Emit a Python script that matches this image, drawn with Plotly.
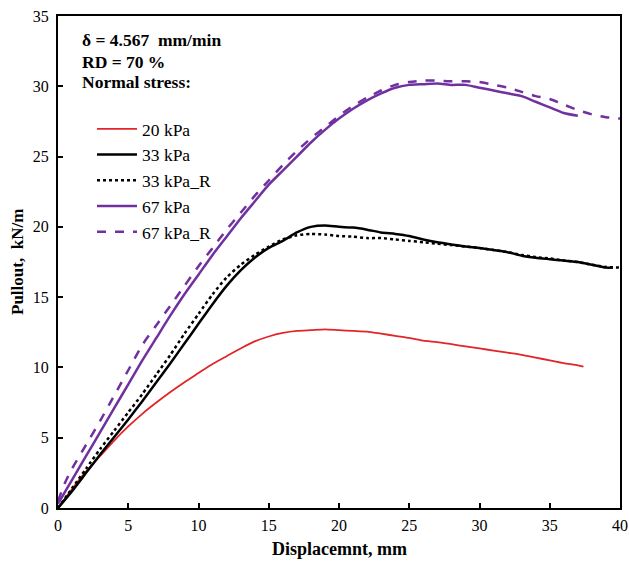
import plotly.graph_objects as go

# ---- data ----
x_20 = [0, 1, 2, 3, 4, 5, 6, 7, 8, 9, 10, 11, 12, 13, 14, 15, 16, 17, 18, 19, 20, 21, 22, 23, 24, 25, 26, 27, 28, 29, 30, 31, 32, 33, 34, 35, 36, 37, 37.4]
y_20 = [0, 1.35, 2.6, 3.7, 4.8, 5.8, 6.7, 7.5, 8.25, 8.95, 9.6, 10.25, 10.8, 11.35, 11.85, 12.2, 12.45, 12.6, 12.65, 12.7, 12.65, 12.6, 12.55, 12.4, 12.25, 12.1, 11.9, 11.8, 11.65, 11.5, 11.35, 11.2, 11.05, 10.9, 10.7, 10.5, 10.3, 10.15, 10.05]

x_33 = [0, 1, 2, 3, 4, 5, 6, 7, 8, 9, 10, 11, 12, 13, 14, 15, 16, 17, 18, 19, 20, 21, 22, 23, 24, 25, 26, 27, 28, 29, 30, 31, 32, 33, 34, 35, 36, 37, 38, 39, 39.5]
y_33 = [0, 1.2, 2.5, 3.8, 5.05, 6.3, 7.6, 8.95, 10.3, 11.7, 13.1, 14.5, 15.8, 16.9, 17.8, 18.5, 19.0, 19.6, 20.0, 20.1, 20.0, 19.95, 19.8, 19.6, 19.5, 19.35, 19.1, 18.9, 18.75, 18.6, 18.5, 18.35, 18.2, 17.95, 17.8, 17.7, 17.6, 17.5, 17.3, 17.1, 17.1]

x_33r = [0, 1, 2, 3, 4, 5, 6, 7, 8, 9, 10, 11, 12, 13, 14, 15, 16, 17, 18, 19, 20, 21, 22, 23, 24, 25, 26, 27, 28, 29, 30, 31, 32, 33, 34, 35, 36, 37, 38, 39, 40]
y_33r = [0, 1.4, 2.8, 4.2, 5.5, 6.8, 8.1, 9.5, 10.9, 12.4, 13.8, 15.2, 16.4, 17.3, 18.0, 18.6, 19.1, 19.4, 19.5, 19.45, 19.35, 19.3, 19.2, 19.2, 19.1, 19.0, 18.9, 18.8, 18.7, 18.6, 18.5, 18.35, 18.2, 18.0, 17.85, 17.75, 17.6, 17.5, 17.3, 17.15, 17.1]

x_67 = [0, 1, 2, 3, 4, 5, 6, 7, 8, 9, 10, 11, 12, 13, 14, 15, 16, 17, 18, 19, 20, 21, 22, 23, 24, 25, 26, 27, 28, 29, 30, 31, 32, 33, 34, 35, 36, 37]
y_67 = [0.3, 2.0, 3.7, 5.4, 7.1, 8.8, 10.5, 12.1, 13.7, 15.2, 16.6, 18.0, 19.3, 20.6, 21.8, 23.0, 24.0, 25.0, 26.0, 26.9, 27.7, 28.4, 29.0, 29.5, 29.9, 30.1, 30.15, 30.2, 30.1, 30.1, 29.9, 29.7, 29.5, 29.3, 28.9, 28.5, 28.1, 27.9]

x_67r = [0, 0.5, 1, 2, 3, 4, 5, 6, 7, 8, 9, 10, 11, 12, 13, 14, 15, 16, 17, 18, 19, 20, 21, 22, 23, 24, 25, 26, 27, 28, 29, 30, 31, 32, 33, 34, 35, 36, 37, 38, 39, 40]
y_67r = [0.5, 1.8, 2.8, 4.5, 6.2, 8.0, 9.8, 11.6, 13.0, 14.4, 15.8, 17.2, 18.5, 19.8, 21.0, 22.2, 23.3, 24.4, 25.4, 26.3, 27.1, 27.9, 28.6, 29.2, 29.7, 30.1, 30.3, 30.4, 30.4, 30.35, 30.35, 30.3, 30.1, 29.9, 29.6, 29.3, 29.1, 28.7, 28.3, 28.0, 27.8, 27.7]

series_names = ["20 kPa", "33 kPa", "33 kPa_R", "67 kPa", "67 kPa_R"]
x_ticks = [0, 5, 10, 15, 20, 25, 30, 35, 40]
y_ticks = [0, 5, 10, 15, 20, 25, 30, 35]
info_lines = ["δ = 4.567  mm/min", "RD = 70 %", "Normal stress:"]
x_title = "Displacemnt, mm"
y_title = "Pullout,  kN/m"

RED = "#e0262a"
PURPLE = "#7030a0"
SERIF = "Liberation Serif, Times New Roman, serif"

fig = go.Figure()
fig.add_trace(go.Scatter(x=x_20, y=y_20, mode="lines", name=series_names[0],
                         line=dict(color=RED, width=1.8, shape="spline", smoothing=0.6)))
fig.add_trace(go.Scatter(x=x_33, y=y_33, mode="lines", name=series_names[1],
                         line=dict(color="black", width=2.5, shape="spline", smoothing=0.6)))
fig.add_trace(go.Scatter(x=x_33r, y=y_33r, mode="lines", name=series_names[2],
                         line=dict(color="black", width=2.5, dash="dot", shape="spline", smoothing=0.6)))
fig.add_trace(go.Scatter(x=x_67, y=y_67, mode="lines", name=series_names[3],
                         line=dict(color=PURPLE, width=2.5, shape="spline", smoothing=0.6)))
fig.add_trace(go.Scatter(x=x_67r, y=y_67r, mode="lines", name=series_names[4],
                         line=dict(color=PURPLE, width=2.5, dash="dash", shape="spline", smoothing=0.6)))

axis_common = dict(showgrid=False, zeroline=False, showline=True, linecolor="black",
                   linewidth=2, mirror=True, ticks="inside", ticklen=5, tickwidth=2,
                   tickcolor="black", automargin=False,
                   tickfont=dict(family=SERIF, size=16, color="black"))

fig.update_xaxes(range=[0, 40], tickvals=x_ticks, ticklabelstandoff=2, **axis_common)
fig.update_yaxes(range=[0, 35], tickvals=y_ticks, ticklabelstandoff=4, **axis_common)

# axis titles
fig.add_annotation(xref="paper", yref="paper", x=0.5, y=-0.083, xanchor="center", yanchor="middle",
                   showarrow=False, text="<b>%s</b>" % x_title,
                   font=dict(family=SERIF, size=18, color="black"))
fig.add_annotation(xref="paper", yref="paper", x=-0.073, y=0.5, xanchor="center", yanchor="middle",
                   showarrow=False, textangle=-90, text="<b>%s</b>" % y_title,
                   font=dict(family=SERIF, size=17, color="black"))

info_y = [0.951, 0.907, 0.865]
for txt, yy in zip(info_lines, info_y):
    fig.add_annotation(xref="paper", yref="paper", x=0.039, y=yy, xanchor="left", yanchor="middle",
                       showarrow=False, align="left",
                       text="<b>%s</b>" % txt, font=dict(family=SERIF, size=17.5, color="black"))

fig.update_layout(
    width=629, height=562,
    margin=dict(l=58, r=9, t=16, b=54),
    paper_bgcolor="white", plot_bgcolor="white",
    showlegend=True,
    legend=dict(x=0.0605, y=0.807, xanchor="left", yanchor="top",
                bgcolor="rgba(255,255,255,0)", font=dict(family=SERIF, size=17.5, color="black"),
                tracegroupgap=0, itemwidth=40),
)

# remove the default page margin so the figure sits at the window's top-left corner
fig.write_html("out.html", config={"displayModeBar": False},
               post_script="document.body.style.margin='0px';")
